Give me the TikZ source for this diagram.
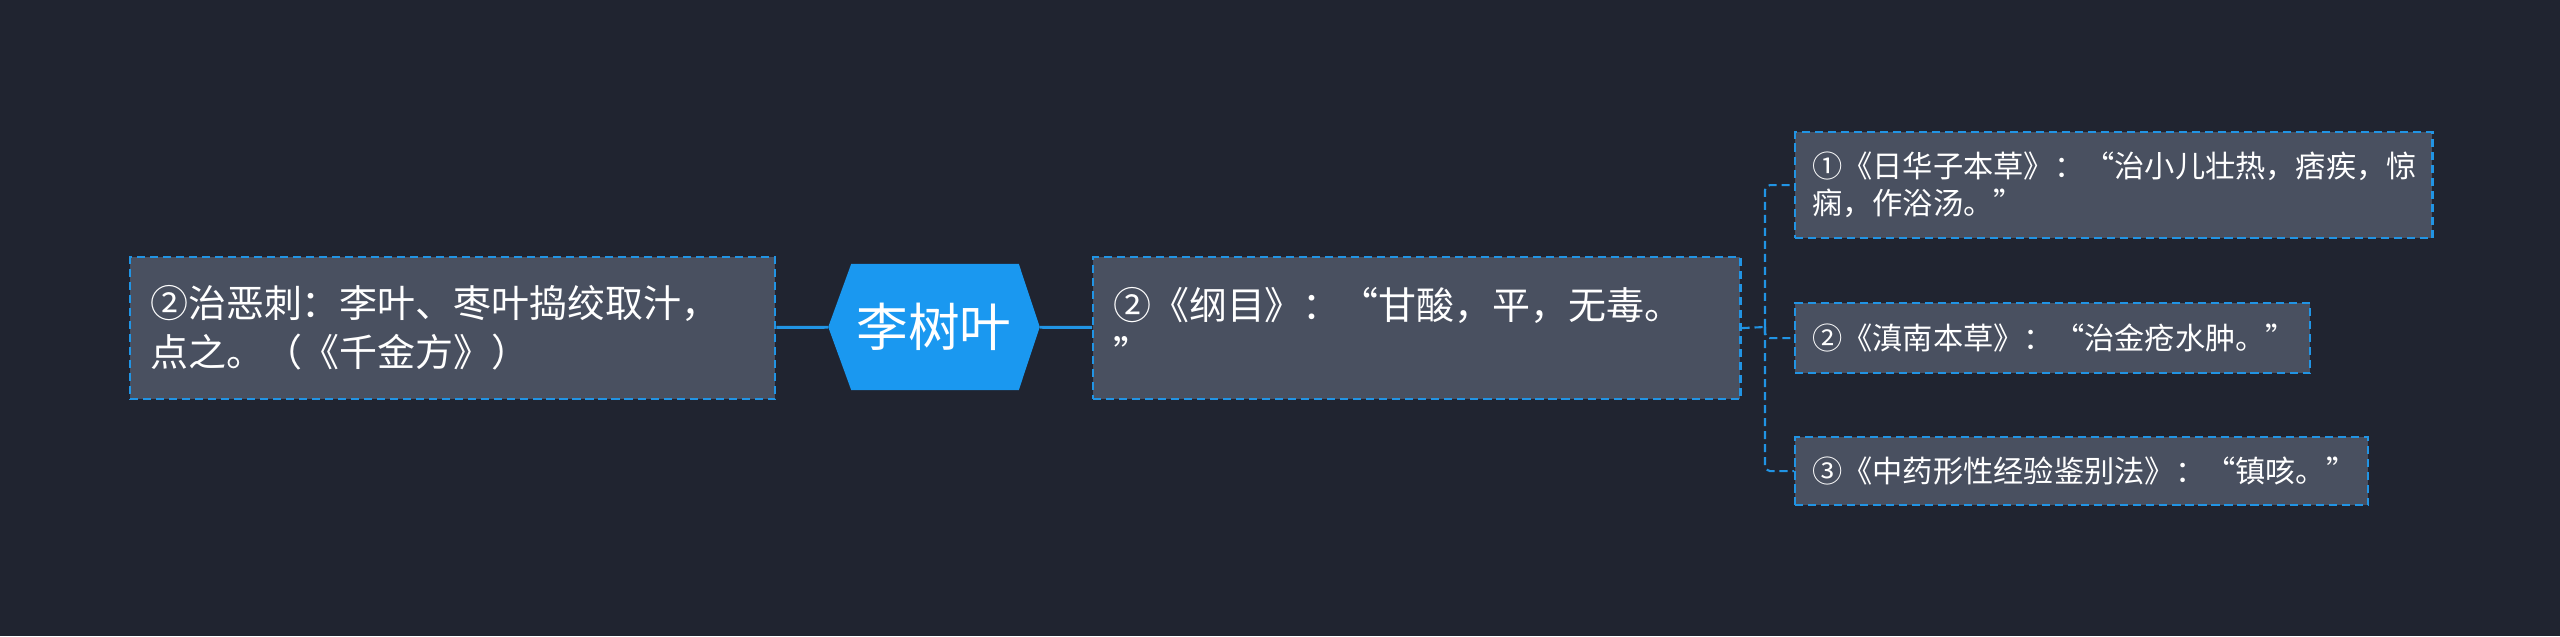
\documentclass[tikz,border=0pt]{standalone}
\usepackage{fontspec}
\setmainfont{Noto Sans CJK SC}
\usepackage{tikz}
\usetikzlibrary{backgrounds}

\definecolor{bgnavy}{RGB}{32,36,48}
\definecolor{boxgrey}{RGB}{73,80,96}
\definecolor{lineblue}{RGB}{33,148,228}
\definecolor{hexblue}{RGB}{26,152,240}

\tikzset{
  leaf/.style={draw=lineblue, fill=boxgrey, line width=0.6pt,
    dash pattern=on 2.3pt off 1.4pt, text=white, align=left,
    anchor=north west, inner xsep=0.2cm, inner ysep=0pt},
  bigleaf/.style={leaf, font=\fontsize{10.8}{13.9}\selectfont},
  smallleaf/.style={leaf, inner xsep=0.17cm, font=\fontsize{8.6}{10.5}\selectfont},
  hub/.style={text=white, minimum width=2.10cm, minimum height=1.25cm,
    inner sep=0pt, font=\fontsize{14.7}{17}\selectfont},
  trunk/.style={draw=lineblue, line width=0.85pt},
  twig/.style={draw=lineblue, line width=0.6pt, dash pattern=on 2.3pt off 1.4pt, rounded corners=0.05cm},
}

\begin{document}
\begin{tikzpicture}[x=0.01cm, y=-0.01cm]
  \draw (934,327) node[hub] (hub) {李树叶};
  \draw (129,256) node[bigleaf, text width=6.05cm, minimum height=1.42cm] (qianjin)
     {②治恶刺：李叶、枣叶捣绞取汁，\\点之。（《千金方》）};
  \draw (1092,256) node[bigleaf, text width=6.07cm, minimum height=1.42cm] (gangmu)
     {②《纲目》：“甘酸，平，无毒。\\”};
  \draw (1794,131) node[smallleaf, text width=6.03cm, minimum height=1.06cm] (rihua)
     {①《日华子本草》：“治小儿壮热，痞疾，惊\\痫，作浴汤。”};
  \draw (1794,302) node[smallleaf, text width=4.81cm, minimum height=0.70cm] (diannan)
     {②《滇南本草》：“治金疮水肿。”};
  \draw (1794,436) node[smallleaf, text width=5.39cm, minimum height=0.68cm] (zhongyao)
     {③《中药形性经验鉴别法》：“镇咳。”};
  \coordinate (fork) at (1765,327);

  \path[trunk] (qianjin) edge (hub);
  \path[trunk] (hub) edge (gangmu);
  \draw[twig] (gangmu.east) -- (fork);
  \draw[twig] (fork) |- (rihua.west);
  \draw[twig] (fork) |- (diannan.west);
  \draw[twig] (fork) |- (zhongyao.west);

  \begin{scope}[on background layer]
    \fill[bgnavy] (0,0) rectangle (2560,636);
    \fill[hexblue] (hub.west) -- ([xshift=0.23cm]hub.north west)
      -- ([xshift=-0.21cm]hub.north east) -- (hub.east)
      -- ([xshift=-0.21cm]hub.south east) -- ([xshift=0.23cm]hub.south west) -- cycle;
  \end{scope}
\end{tikzpicture}
\end{document}
